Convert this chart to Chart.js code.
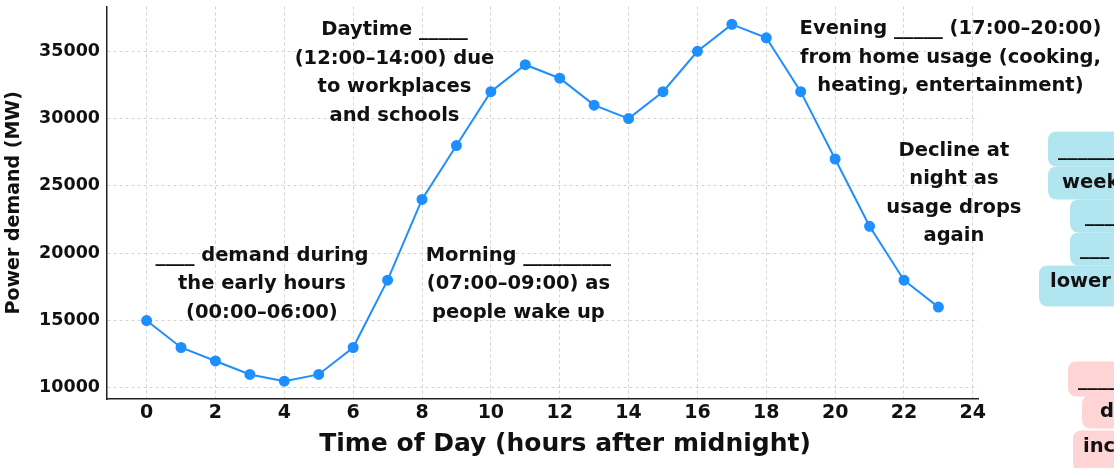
<!DOCTYPE html>
<html>
<head>
<meta charset="utf-8">
<script src="https://cdn.jsdelivr.net/npm/chart.js@4.4.1/dist/chart.umd.min.js"></script>
<style>
  html, body { margin: 0; padding: 0; background: #fff; }
  canvas { display: block; }
</style>
</head>
<body>
<canvas id="myChart" width="1114" height="468"></canvas>
<script>
const hours = [0,1,2,3,4,5,6,7,8,9,10,11,12,13,14,15,16,17,18,19,20,21,22,23];
const demand = [15000,13000,12000,11000,10500,11000,13000,18000,24000,28000,32000,34000,
                33000,31000,30000,32000,35000,37000,36000,32000,27000,22000,18000,16000];
const xTicks = [0,2,4,6,8,10,12,14,16,18,20,22,24];
const yTicks = [10000,15000,20000,25000,30000,35000];

const FONT = "'DejaVu Sans'";
const INK = "#111";

// text notes on the plot: [center hour, top line MW, lines]
const notes = [
  [3.35, 19800, ["____ demand during", "the early hours", "(00:00\u201306:00)"]],
  [7.2, 36550, ["Daytime _____", "(12:00\u201314:00) due", "to workplaces", "and schools"]],
  [10.8, 19800, ["Morning _________", "(07:00\u201309:00) as", "people wake up"]],
  [23.35, 36650, ["Evening _____ (17:00\u201320:00)", "from home usage (cooking,", "heating, entertainment)"]],
  [23.45, 27600, ["Decline at", "night as", "usage drops", "again"]]
];

// side boxes (cut off at the right edge in the original)
const sideBoxes = [
  { fill: "#b1e6f1", lines: [
    ["_______ on", 1058, 150, 1048],
    ["weekends due to", 1062, 183, 1048],
    ["___ office", 1085, 216, 1070],
    ["___ and", 1080, 249, 1070],
    ["lower commercial", 1050, 282, 1039]
  ]},
  { fill: "#fed4d4", lines: [
    ["_____ in", 1078, 380, 1068],
    ["demand from", 1100, 412, 1082],
    ["increased heating", 1083, 447, 1073]
  ]}
];

function roundRect(ctx, x, y, w, h, r) {
  ctx.beginPath();
  ctx.moveTo(x + r, y);
  ctx.lineTo(x + w - r, y);
  ctx.quadraticCurveTo(x + w, y, x + w, y + r);
  ctx.lineTo(x + w, y + h - r);
  ctx.quadraticCurveTo(x + w, y + h, x + w - r, y + h);
  ctx.lineTo(x + r, y + h);
  ctx.quadraticCurveTo(x, y + h, x, y + h - r);
  ctx.lineTo(x, y + r);
  ctx.quadraticCurveTo(x, y, x + r, y);
  ctx.closePath();
}

const notesPlugin = {
  id: "notes",
  afterDraw(chart) {
    const ctx = chart.ctx;
    const xs = chart.scales.x, ys = chart.scales.y;
    ctx.save();
    ctx.fillStyle = INK;
    ctx.textAlign = "center";
    ctx.textBaseline = "middle";

    ctx.font = "bold 25px " + FONT;
    ctx.fillText("Time of Day (hours after midnight)", 565, 444);

    ctx.font = "bold 19.5px " + FONT;
    notes.forEach(([hx, my, lines]) => {
      const cx = xs.getPixelForValue(hx);
      const cy = ys.getPixelForValue(my);
      lines.forEach((t, i) => ctx.fillText(t, cx, cy + i * 28.5));
    });

    sideBoxes.forEach(box => {
      ctx.fillStyle = box.fill;
      const n = box.lines.length;
      box.lines.forEach(([t, tx, ty, bx], i) => {
        const top = ty - 16.5 - (i === 0 ? 2 : 0);
        const bot = ty + 16.5 + (i === n - 1 ? 8 : 0);
        roundRect(ctx, bx, top, 1140 - bx, bot - top, 9);
        ctx.fill();
      });
      ctx.fillStyle = INK;
      ctx.textAlign = "left";
      box.lines.forEach(([t, tx, ty]) => ctx.fillText(t, tx, ty));
    });
    ctx.restore();
  }
};

new Chart("myChart", {
  type: "line",
  data: {
    datasets: [{
      data: hours.map((h, i) => ({ x: h, y: demand[i] })),
      borderColor: "#1e8fff",
      backgroundColor: "#1e8fff",
      borderWidth: 2,
      pointRadius: 4.5,
      pointHoverRadius: 4.5,
      tension: 0,
      fill: false
    }]
  },
  options: {
    responsive: false,
    animation: false,
    layout: { padding: { left: 0, right: 136, top: 5, bottom: 0 } },
    plugins: { legend: { display: false }, tooltip: { enabled: false } },
    scales: {
      x: {
        type: "linear",
        min: -1.15,
        max: 24.15,
        afterBuildTicks(s) { s.ticks = xTicks.map(v => ({ value: v })); },
        afterFit(s) { s.height = 69; },
        ticks: {
          padding: 3,
          color: INK,
          font: { family: FONT, size: 19, weight: "bold" }
        },
        grid: { color: "#d2d2d2", lineWidth: 1, drawTicks: false },
        border: { color: "#222", width: 1.5, dash: [3, 3] }
      },
      y: {
        min: 9175,
        max: 38325,
        afterBuildTicks(s) { s.ticks = yTicks.map(v => ({ value: v })); },
        afterFit(s) { s.width = 107; s.paddingTop = 0; s.paddingBottom = 0; },
        ticks: {
          padding: 7,
          color: INK,
          font: { family: FONT, size: 17.5, weight: "bold" },
          callback: v => String(v)
        },
        grid: { color: "#d2d2d2", lineWidth: 1, drawTicks: false },
        border: { color: "#222", width: 1.5, dash: [3, 3] },
        title: {
          display: true,
          text: "Power demand (MW)",
          color: INK,
          font: { family: FONT, size: 19, weight: "bold" },
          padding: { top: 3, bottom: 0 }
        }
      }
    }
  },
  plugins: [notesPlugin]
});
</script>
</body>
</html>
